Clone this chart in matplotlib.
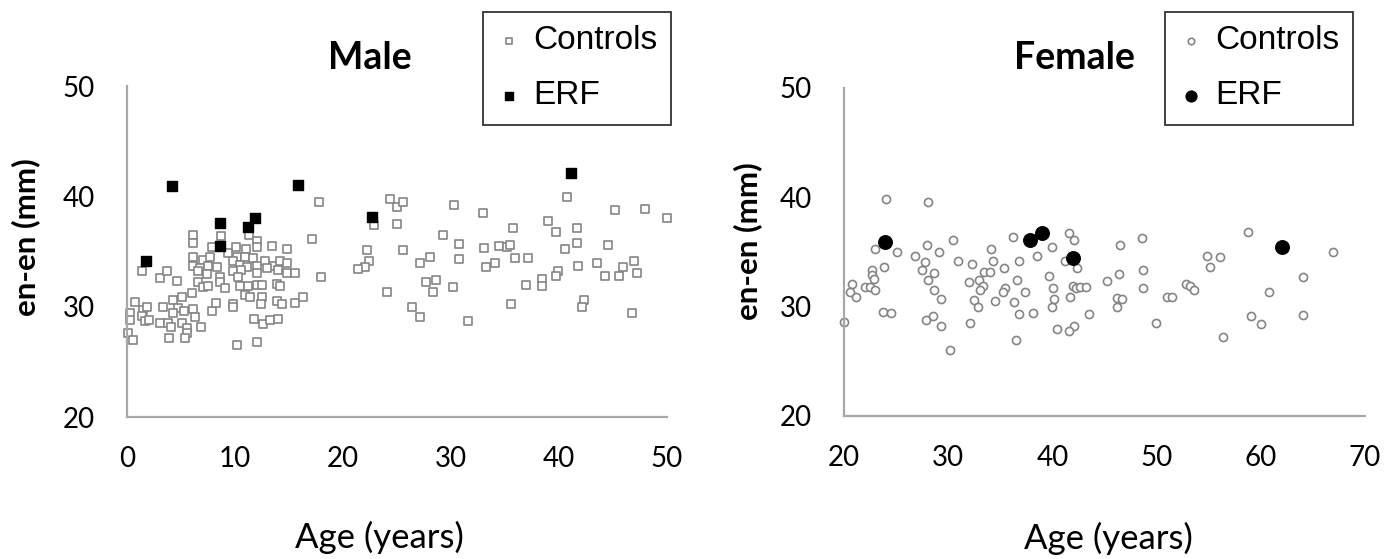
import matplotlib
matplotlib.use("Agg")
import matplotlib.pyplot as plt

# Male: controls (age, en-en)
male_ctrl_age = [17.8, 17.1, 18.0, 6.1, 6.1, 8.7, 11.3, 12.0, 7.9, 10.1, 11.0, 12.0, 13.4, 14.8,
                 6.1, 7.0, 7.7, 9.4, 10.2, 10.9, 11.7, 6.1, 6.8, 7.5, 8.3, 9.8, 10.5, 11.1, 12.0,
                 12.8, 13.5, 14.2, 14.8, 6.6, 7.4, 9.8, 10.6, 12.0, 13.0, 14.0, 14.8, 15.6, 1.4,
                 3.1, 3.7, 4.6, 6.6, 7.0, 7.5, 8.6, 8.6, 9.1, 10.3, 10.5, 11.2, 12.0, 12.5, 13.9,
                 14.2, 6.0, 5.1, 4.3, 10.9, 11.4, 12.5, 13.9, 14.4, 15.6, 16.3, 0.7, 3.3, 4.7,
                 5.3, 6.1, 4.3, 1.5, 1.9, 1.4, 1.7, 2.0, 0.3, 0.3, 3.1, 3.8, 4.1, 5.1, 6.3, 7.9,
                 8.2, 9.8, 9.8, 12.4, 11.8, 12.6, 13.2, 14.0, 6.9, 5.6, 5.6, 0.1, 0.6, 3.9, 5.4,
                 10.2, 12.0,
                 24.4, 25.0, 25.6, 30.3, 33.0, 40.7, 45.2, 48.0, 50.0, 22.9, 25.0, 29.3, 35.7,
                 39.0, 39.7, 41.7, 41.7, 44.5, 40.6, 22.2, 25.6, 30.7, 33.1, 34.4, 35.2, 35.5,
                 30.7, 35.9, 37.1, 34.1, 33.2, 28.1, 27.1, 22.4, 22.0, 21.4, 43.5, 41.8, 46.9,
                 45.9, 47.2, 44.3, 45.6, 39.9, 39.7, 38.4, 38.4, 36.9, 27.7, 28.6, 28.3, 30.2,
                 24.1, 26.4, 27.1, 31.6, 35.6, 42.3, 42.1, 46.8]
male_ctrl_enen = [39.5, 36.1, 32.7, 36.5, 35.8, 36.4, 36.5, 36.0, 35.4, 35.4, 35.2, 35.4, 35.5, 35.2,
                  34.5, 34.2, 34.5, 34.9, 34.5, 34.5, 34.4, 33.7, 33.5, 33.7, 33.6, 34.1, 33.8, 33.6,
                  33.7, 34.1, 33.7, 34.1, 34.0, 33.2, 33.0, 33.2, 33.3, 33.1, 33.5, 33.3, 33.1, 33.1,
                  33.2, 32.6, 33.2, 32.3, 32.2, 31.8, 31.9, 32.7, 32.2, 31.7, 32.7, 31.9, 31.9, 32.0,
                  32.0, 32.1, 31.9, 31.2, 30.9, 30.6, 31.1, 30.9, 30.9, 30.5, 30.2, 30.3, 30.9, 30.4,
                  30.0, 29.9, 29.6, 29.8, 29.4, 29.7, 30.0, 29.2, 28.7, 28.8, 29.4, 28.8, 28.5, 28.5,
                  28.2, 28.5, 29.1, 29.6, 30.3, 30.2, 30.0, 30.2, 28.9, 28.4, 28.8, 28.9, 28.2, 28.1,
                  27.6, 27.6, 27.0, 27.2, 27.2, 26.5, 26.8,
                  39.8, 39.0, 39.5, 39.2, 38.5, 39.9, 38.8, 38.9, 38.0, 37.4, 37.5, 36.5, 37.1,
                  37.8, 36.8, 37.1, 35.8, 35.6, 35.2, 35.1, 35.1, 35.7, 35.3, 35.5, 35.4, 35.6,
                  34.3, 34.4, 34.4, 34.0, 33.6, 34.5, 34.0, 34.1, 33.6, 33.4, 34.0, 33.7, 34.1,
                  33.6, 33.1, 32.8, 32.8, 33.2, 32.8, 32.5, 31.9, 32.0, 32.2, 32.4, 31.3, 31.8,
                  31.3, 30.0, 29.1, 28.7, 30.2, 30.6, 30.0, 29.4]

# Male: ERF
male_erf_age = [1.8, 4.2, 8.6, 8.6, 11.2, 11.9, 15.8, 22.7, 41.1]
male_erf_enen = [34.1, 40.9, 37.6, 35.5, 37.2, 38.0, 41.0, 38.1, 42.1]

# Female: controls
female_ctrl_age = [24.0, 28.1, 23.0, 25.1, 23.8, 22.7, 22.7, 22.9, 20.8, 20.6, 21.2, 22.0, 22.5,
                   23.0, 20.0, 23.7, 24.5, 28.0, 29.1, 30.5, 26.8, 27.8, 27.5, 28.6, 28.1, 28.6,
                   29.3, 27.9, 28.5, 29.3, 30.2, 30.9, 32.3, 32.1, 32.0, 33.4, 34.0, 33.0, 33.3,
                   33.1, 32.5, 32.9, 34.1, 34.3, 34.5, 35.4, 35.5, 35.3, 36.2, 36.3, 36.6, 36.8,
                   36.8, 37.4, 36.5, 38.1, 38.5, 40.0, 39.7, 40.1, 40.2, 40.0, 40.4, 41.6, 42.1,
                   41.2, 42.4, 42.0, 42.3, 42.7, 43.2, 41.7, 42.1, 41.6, 43.5, 45.2, 46.5, 48.6,
                   46.4, 48.7, 48.7, 46.2, 46.7, 46.2, 49.9, 51.0, 51.5, 52.8, 53.2, 53.6, 54.8,
                   56.1, 55.1, 56.4, 58.8, 59.1, 60.0, 60.8, 64.1, 64.1, 66.9]
female_ctrl_enen = [39.8, 39.6, 35.3, 35.0, 33.6, 33.3, 32.9, 32.5, 32.1, 31.3, 30.9, 31.8, 31.8,
                    31.5, 28.6, 29.5, 29.4, 35.6, 35.0, 36.1, 34.6, 34.1, 33.3, 33.1, 32.4, 31.5,
                    30.7, 28.8, 29.1, 28.2, 26.0, 34.2, 33.9, 28.5, 32.2, 33.2, 33.2, 32.4, 31.9,
                    31.5, 30.6, 30.0, 35.3, 34.2, 30.5, 33.5, 31.7, 31.3, 36.4, 30.4, 32.4, 34.2,
                    29.3, 31.3, 26.9, 29.4, 34.6, 35.4, 32.8, 31.7, 30.7, 30.0, 27.9, 36.7, 36.1,
                    34.2, 33.5, 31.9, 31.7, 31.8, 31.8, 30.9, 28.2, 27.8, 29.3, 32.3, 35.6, 36.3,
                    33.0, 33.3, 31.7, 30.8, 30.7, 30.0, 28.5, 30.9, 30.9, 32.1, 31.9, 31.5, 34.6,
                    34.5, 33.6, 27.2, 36.8, 29.1, 28.4, 31.3, 32.7, 29.2, 35.0]

# Female: ERF
female_erf_age = [23.9, 37.9, 39.0, 42.0, 62.0]
female_erf_enen = [35.9, 36.1, 36.7, 34.4, 35.4]

tick_font = "Lato"
legend_font = "Liberation Sans"
gray = "#858585"
spine_gray = "#a8a8a8"

fig = plt.figure(figsize=(13.89, 5.59), dpi=100)
ax1 = fig.add_axes([0.0914, 0.254, 0.3888, 0.592])
ax2 = fig.add_axes([0.6076, 0.256, 0.3751, 0.587])


def style_axes(ax, xlim, xticks):
    ax.set_xlim(*xlim)
    ax.set_ylim(20, 50)
    ax.set_xticks(xticks)
    ax.set_yticks([20, 30, 40, 50])
    for s in ["top", "right"]:
        ax.spines[s].set_visible(False)
    for s in ["left", "bottom"]:
        ax.spines[s].set_color(spine_gray)
        ax.spines[s].set_linewidth(1.6)
    ax.tick_params(axis="both", length=0, labelsize=20)
    ax.tick_params(axis="y", pad=23)
    ax.tick_params(axis="x", pad=21)
    for lab in ax.get_xticklabels() + ax.get_yticklabels():
        lab.set_fontfamily(tick_font)
    ax.set_ylabel("en-en (mm)", fontsize=22.5, fontweight="bold", fontfamily=tick_font)
    ax.set_xlabel("Age (years)", fontsize=25, fontfamily=tick_font)


def add_legend(ax, anchor):
    leg = ax.legend(loc="upper left", bbox_to_anchor=anchor, bbox_transform=fig.transFigure,
                    prop={"family": legend_font, "size": 24}, frameon=True, fancybox=False,
                    edgecolor="black", borderpad=0.4, borderaxespad=0, labelspacing=0.72,
                    handletextpad=0.35, handlelength=0.75, markerscale=0.8)
    leg.get_frame().set_linewidth(1.3)
    return leg


# Male panel
ax1.scatter(male_ctrl_age, male_ctrl_enen, marker="s", s=30, facecolors="white",
            edgecolors=gray, linewidths=1.2, label="Controls", clip_on=False, zorder=2)
ax1.scatter(male_erf_age, male_erf_enen, marker="s", s=55, color="black",
            label="ERF", clip_on=False, zorder=3)
style_axes(ax1, (0, 50), [0, 10, 20, 30, 40, 50])
ax1.yaxis.set_label_coords(-0.161, 0.544)
ax1.xaxis.set_label_coords(0.467, -0.315)
ax1.text(0.45, 1.085, "Male", transform=ax1.transAxes, ha="center", va="center",
         fontsize=27, fontweight="bold", fontfamily=tick_font)
add_legend(ax1, (0.3477, 0.9785))

# Female panel
ax2.scatter(female_ctrl_age, female_ctrl_enen, marker="o", s=34, facecolors="white",
            edgecolors=gray, linewidths=1.2, label="Controls", clip_on=False, zorder=2)
ax2.scatter(female_erf_age, female_erf_enen, marker="o", s=95, color="black",
            label="ERF", clip_on=False, zorder=3)
style_axes(ax2, (20, 70), [20, 30, 40, 50, 60, 70])
ax2.yaxis.set_label_coords(-0.157, 0.534)
ax2.xaxis.set_label_coords(0.507, -0.322)
ax2.text(0.443, 1.091, "Female", transform=ax2.transAxes, ha="center", va="center",
         fontsize=27, fontweight="bold", fontfamily=tick_font)
add_legend(ax2, (0.8387, 0.9785))

fig.savefig("out.png", dpi=100, facecolor="white")
